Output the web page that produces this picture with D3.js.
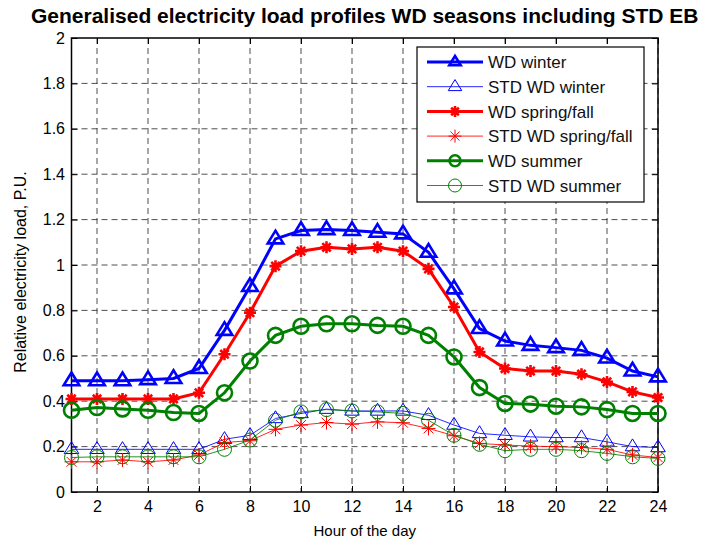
<!DOCTYPE html>
<html><head><meta charset="utf-8">
<script src="https://cdn.jsdelivr.net/npm/d3@7"></script>
<style>body{margin:0;background:#fff}svg{display:block}text{font-family:"Liberation Sans",Arial,sans-serif}</style>
</head><body><svg id="c" width="704" height="542"></svg>
<script>
const hours = d3.range(1, 25);
const wdWinter = [0.49,0.49,0.49,0.495,0.50,0.544,0.712,0.905,1.115,1.152,1.156,1.152,1.144,1.137,1.056,0.895,0.72,0.665,0.646,0.636,0.624,0.59,0.533,0.507];
const stdWinter = [0.188,0.188,0.188,0.188,0.188,0.188,0.232,0.25,0.324,0.346,0.365,0.357,0.357,0.357,0.338,0.295,0.258,0.25,0.243,0.24,0.24,0.221,0.2,0.196];
const wdSpring = [0.41,0.41,0.41,0.41,0.41,0.437,0.607,0.79,0.995,1.061,1.078,1.071,1.078,1.061,0.983,0.815,0.617,0.544,0.533,0.533,0.519,0.485,0.441,0.416];
const stdSpring = [0.133,0.133,0.141,0.133,0.141,0.163,0.218,0.226,0.276,0.295,0.306,0.299,0.309,0.305,0.28,0.248,0.214,0.207,0.202,0.2,0.196,0.188,0.163,0.152];
const wdSummer = [0.36,0.372,0.366,0.36,0.35,0.346,0.437,0.577,0.69,0.73,0.741,0.741,0.734,0.73,0.69,0.595,0.46,0.39,0.387,0.378,0.375,0.363,0.346,0.346];
const stdSummer = [0.152,0.155,0.155,0.155,0.155,0.155,0.188,0.229,0.316,0.353,0.363,0.357,0.353,0.346,0.316,0.25,0.21,0.182,0.188,0.188,0.182,0.17,0.155,0.148];
const xTicks = d3.range(2, 25, 2);
const yTicks = d3.range(0, 2.01, 0.2).map(v => +v.toFixed(1));
const seriesNames = ["WD winter","STD WD winter","WD spring/fall","STD WD spring/fall","WD summer","STD WD summer"];
const seriesColors = ["#0000ff","#0000ff","#ff0000","#ff0000","#008000","#008000"];
const seriesMarkers = ["triangle","triangle","plus","star","circle","circle"];
const seriesData = [wdWinter, stdWinter, wdSpring, stdSpring, wdSummer, stdSummer];
const seriesThick = [true,false,true,false,true,false];

const svg = d3.select("#c");
const L = 71.5, R = 658, T = 38, B = 492;
const x = d3.scaleLinear().domain([1, 24]).range([L, R]);
const y = d3.scaleLinear().domain([0, 2]).range([B, T]);

// grid
const g = svg.append("g");
g.selectAll(".gx").data(xTicks).join("line")
  .attr("x1", d => x(d)).attr("x2", d => x(d)).attr("y1", T).attr("y2", B)
  .attr("stroke", "#222").attr("stroke-width", 0.8).attr("stroke-dasharray", "6,4");
g.selectAll(".gy").data(yTicks.filter(v => v > 0 && v < 2)).join("line")
  .attr("x1", L).attr("x2", R).attr("y1", d => y(d)).attr("y2", d => y(d))
  .attr("stroke", "#222").attr("stroke-width", 0.8).attr("stroke-dasharray", "6,4");

// axes
const fmt = d => d3.format("~g")(d);
const ax = svg.append("g").attr("transform", `translate(0,${B})`)
  .call(d3.axisBottom(x).tickValues(xTicks).tickSize(-6).tickPadding(8.5).tickFormat(fmt));
const axT = svg.append("g").attr("transform", `translate(0,${T})`)
  .call(d3.axisTop(x).tickValues(xTicks).tickSize(-6).tickFormat(""));
const ay = svg.append("g").attr("transform", `translate(${L},0)`)
  .call(d3.axisLeft(y).tickValues(yTicks).tickSize(-6).tickPadding(6.5).tickFormat(fmt));
const ayR = svg.append("g").attr("transform", `translate(${R},0)`)
  .call(d3.axisRight(y).tickValues(yTicks).tickSize(-6).tickFormat(""));
[ax, axT, ay, ayR].forEach(a => {
  a.select(".domain").remove();
  a.selectAll(".tick line").attr("stroke", "#000").attr("stroke-width", 1);
  a.selectAll("text").attr("font-size", 16).attr("fill", "#000").attr("font-family", "Liberation Sans, Arial, sans-serif");
});
svg.append("rect").attr("x", L).attr("y", T).attr("width", R - L).attr("height", B - T)
  .attr("fill", "none").attr("stroke", "#000").attr("stroke-width", 1.5);

// marker drawing
function marker(sel, type, size, color, sw) {
  if (type === "triangle") {
    const h = size;
    sel.append("path").attr("d", `M0,${-h*0.55}L${h*0.52},${h*0.3}L${-h*0.52},${h*0.3}Z`)
      .attr("fill", "none").attr("stroke", color).attr("stroke-width", sw);
  } else if (type === "circle") {
    sel.append("circle").attr("r", size/2).attr("fill", "none").attr("stroke", color).attr("stroke-width", sw);
  } else if (type === "plus" || type === "star") {
    const r = size/2;
    const p = `M${-r},0L${r},0M0,${-r}L0,${r}M${-r*0.7},${-r*0.7}L${r*0.7},${r*0.7}M${-r*0.7},${r*0.7}L${r*0.7},${-r*0.7}`;
    sel.append("path").attr("d", p).attr("fill", "none").attr("stroke", color).attr("stroke-width", sw);
  }
}

const line = d3.line().x((d, i) => x(hours[i])).y(d => y(d));
seriesData.forEach((data, si) => {
  const thick = seriesThick[si];
  const col = seriesColors[si];
  svg.append("path").datum(data).attr("d", line).attr("fill", "none")
    .attr("stroke", col).attr("stroke-width", thick ? 3 : 1).attr("stroke-opacity", thick ? 1 : 0.85);
  const mg = svg.append("g");
  data.forEach((v, i) => {
    const m = mg.append("g").attr("transform", `translate(${x(hours[i])},${y(v)})`);
    marker(m, seriesMarkers[si], thick ? (seriesMarkers[si] === "plus" ? 12 : 15) : 14, col, thick ? 2.6 : 1);
  });
});

// legend
const lg = svg.append("g");
const lx = 417, ly = 47, lw = 227, lh = 155;
lg.append("rect").attr("x", lx).attr("y", ly).attr("width", lw).attr("height", lh)
  .attr("fill", "#fff").attr("stroke", "#000").attr("stroke-width", 1.2);
seriesNames.forEach((n, i) => {
  const yy = 62 + i * 24.7;
  const thick = seriesThick[i];
  lg.append("line").attr("x1", 427).attr("x2", 483).attr("y1", yy).attr("y2", yy)
    .attr("stroke", seriesColors[i]).attr("stroke-width", thick ? 3 : 1).attr("stroke-opacity", thick ? 1 : 0.85);
  const m = lg.append("g").attr("transform", `translate(455,${yy})`);
  marker(m, seriesMarkers[i], thick ? 11 : 13, seriesColors[i], thick ? 2.6 : 1);
  lg.append("text").attr("x", 488).attr("y", yy).attr("dy", "0.36em")
    .attr("font-size", 17).attr("fill", "#111").text(n);
});

// labels
svg.append("text").attr("x", (L + R) / 2).attr("y", 23).attr("text-anchor", "middle")
  .attr("font-size", 21).attr("font-weight", "bold").attr("fill", "#000")
  .text("Generalised electricity load profiles WD seasons including STD EB");
svg.append("text").attr("x", (L + R) / 2).attr("y", 535.5).attr("text-anchor", "middle")
  .attr("font-size", 15).attr("fill", "#000").text("Hour of the day");
svg.append("text").attr("transform", `translate(26,272) rotate(-90)`).attr("text-anchor", "middle")
  .attr("font-size", 16).attr("fill", "#000").text("Relative electricity load, P.U.");
</script></body></html>
